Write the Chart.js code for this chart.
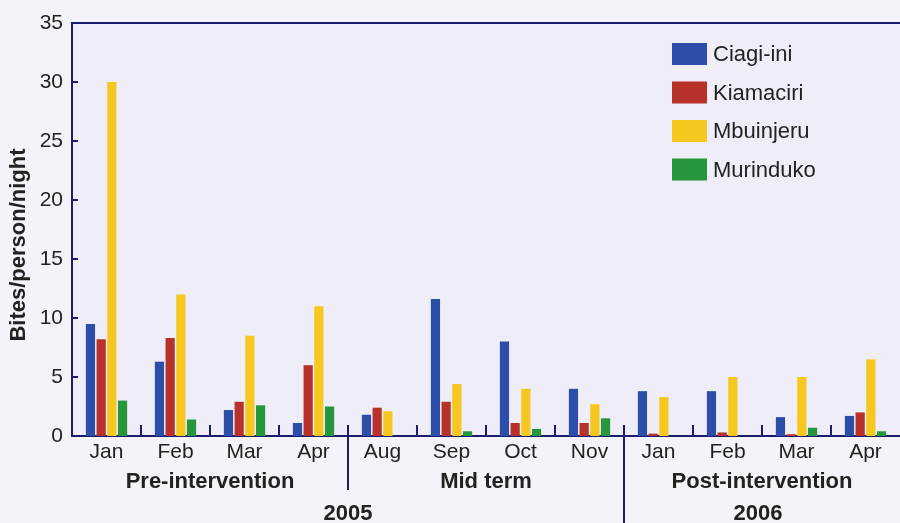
<!DOCTYPE html>
<html>
<head>
<meta charset="utf-8">
<script src="https://cdn.jsdelivr.net/npm/chart.js@4.4.0/dist/chart.umd.min.js"></script>
<style>
  html, body { margin: 0; padding: 0; background: #f4f3fa; }
  canvas { display: block; }
</style>
</head>
<body>
<canvas id="myChart" width="900" height="523"></canvas>
<script>
const months = ['Jan', 'Feb', 'Mar', 'Apr', 'Aug', 'Sep', 'Oct', 'Nov', 'Jan', 'Feb', 'Mar', 'Apr'];
const ciagiini  = [9.5, 6.3, 2.2, 1.1, 1.8, 11.6, 8.0, 4.0, 3.8, 3.8, 1.6, 1.7];
const kiamaciri = [8.2, 8.3, 2.9, 6.0, 2.4, 2.9, 1.1, 1.1, 0.2, 0.3, 0.15, 2.0];
const mbuinjeru = [30.0, 12.0, 8.5, 11.0, 2.1, 4.4, 4.0, 2.7, 3.3, 5.0, 5.0, 6.5];
const murinduko = [3.0, 1.4, 2.6, 2.5, 0, 0.4, 0.6, 1.5, 0, 0, 0.7, 0.4];

// phase groups: label, first index, last index
const phases = [
    ['Pre-intervention', 0, 3],
    ['Mid term', 4, 7],
    ['Post-intervention', 8, 11]
];
const years = ['2005', '2006'];
const yTicks = [0, 5, 10, 15, 20, 25, 30, 35];

const navy = '#1d1b6e';
const ink = '#222222';

function boundary(x, i) {
    // pixel between category i and i+1
    return (x.getPixelForValue(i) + x.getPixelForValue(i + 1)) / 2;
}

const decor = {
    id: 'decor',
    beforeDraw(chart) {
        const ctx = chart.ctx, a = chart.chartArea;
        ctx.save();
        ctx.fillStyle = '#f4f3fa';
        ctx.fillRect(0, 0, chart.width, chart.height);
        ctx.fillStyle = '#eeedf8';
        ctx.fillRect(a.left, a.top, chart.width - a.left, a.bottom - a.top);
        ctx.restore();
    },
    afterDraw(chart) {
        const ctx = chart.ctx, a = chart.chartArea;
        const x = chart.scales.x, y = chart.scales.y;
        ctx.save();
        ctx.strokeStyle = navy;
        ctx.lineWidth = 2;

        // top frame line
        ctx.beginPath();
        ctx.moveTo(a.left, a.top);
        ctx.lineTo(chart.width, a.top);
        ctx.stroke();

        // inward y ticks
        yTicks.forEach(v => {
            if (v === 0 || v === 35) return;
            const py = y.getPixelForValue(v);
            ctx.beginPath();
            ctx.moveTo(a.left, py);
            ctx.lineTo(a.left + 6, py);
            ctx.stroke();
        });

        // minor ticks between months, longer separators between phases
        for (let i = 0; i < months.length - 1; i++) {
            const bx = boundary(x, i);
            ctx.beginPath();
            ctx.moveTo(bx, a.bottom - 11);
            if (i === 3) ctx.lineTo(bx, 490);
            else if (i === 7) ctx.lineTo(bx, chart.height);
            else ctx.lineTo(bx, a.bottom);
            ctx.stroke();
        }

        // phase labels
        ctx.fillStyle = ink;
        ctx.font = 'bold 22px "Liberation Sans", Arial, sans-serif';
        ctx.textAlign = 'center';
        ctx.textBaseline = 'middle';
        phases.forEach(p => {
            const cx = (x.getPixelForValue(p[1]) + x.getPixelForValue(p[2])) / 2;
            ctx.fillText(p[0], cx, 482);
        });

        // year labels
        const mid = boundary(x, 7);
        ctx.fillText(years[0], (a.left + mid) / 2, 514);
        ctx.fillText(years[1], (mid + a.right) / 2 - 4, 514);

        // y axis title
        ctx.save();
        ctx.translate(19, 245);
        ctx.rotate(-Math.PI / 2);
        ctx.fillText('Bites/person/night', 0, 0);
        ctx.restore();

        // legend
        ctx.font = '22px "Liberation Sans", Arial, sans-serif';
        ctx.textAlign = 'left';
        chart.data.datasets.forEach((ds, i) => {
            const top = 43 + i * 38.5;
            ctx.fillStyle = ds.backgroundColor;
            ctx.fillRect(672, top, 35, 22);
            ctx.fillStyle = ink;
            ctx.fillText(ds.label, 713, top + 12);
        });
        ctx.restore();
    }
};

new Chart(document.getElementById('myChart'), {
    type: 'bar',
    data: {
        labels: months,
        datasets: [
            { label: 'Ciagi-ini', data: ciagiini, backgroundColor: '#2c4ea8' },
            { label: 'Kiamaciri', data: kiamaciri, backgroundColor: '#b6322b' },
            { label: 'Mbuinjeru', data: mbuinjeru, backgroundColor: '#f6c71e' },
            { label: 'Murinduko', data: murinduko, backgroundColor: '#26953b' }
        ]
    },
    options: {
        responsive: false,
        devicePixelRatio: 1,
        animation: false,
        layout: { padding: { top: 23, right: 0, left: 0, bottom: 0 } },
        datasets: { bar: { categoryPercentage: 0.62, barPercentage: 0.86 } },
        plugins: {
            legend: { display: false },
            tooltip: { enabled: false }
        },
        scales: {
            x: {
                offset: true,
                grid: { display: false, drawTicks: false },
                border: { display: true, color: navy, width: 2 },
                ticks: {
                    color: ink,
                    padding: 4,
                    maxRotation: 0,
                    autoSkip: false,
                    font: { family: '"Liberation Sans", Arial, sans-serif', size: 21 }
                },
                afterFit: s => { s.height = 87; }
            },
            y: {
                min: 0,
                max: 35,
                grid: { display: false, drawTicks: false },
                border: { display: true, color: navy, width: 2 },
                afterBuildTicks: s => { s.ticks = yTicks.map(v => ({ value: v })); },
                ticks: {
                    color: ink,
                    padding: 9,
                    font: { family: '"Liberation Sans", Arial, sans-serif', size: 21 }
                },
                afterFit: s => { s.width = 72; }
            }
        }
    },
    plugins: [decor]
});
</script>
</body>
</html>
